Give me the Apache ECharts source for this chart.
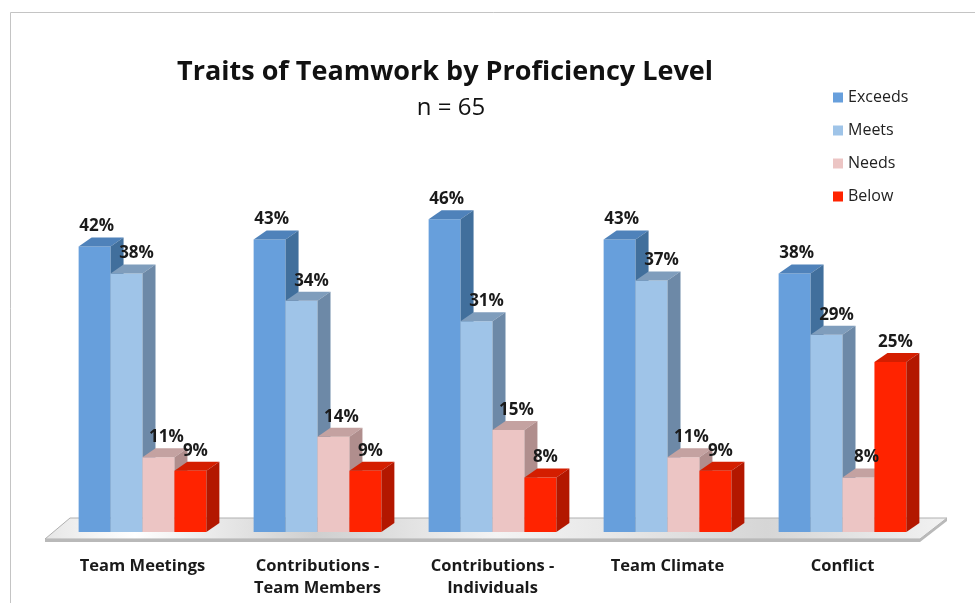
<!DOCTYPE html>
<html>
<head>
<meta charset="utf-8">
<script src="https://cdn.jsdelivr.net/npm/echarts@6/dist/echarts.min.js"></script>
<style>
  html, body { margin: 0; padding: 0; background: #fff; }
  #chart { width: 975px; height: 603px; }
</style>
</head>
<body>
<div id="chart"></div>
<script>
// categories and values (percent)
var categories = ['Team Meetings', 'Contributions -\nTeam Members', 'Contributions -\nIndividuals', 'Team Climate', 'Conflict']
var levels = ['Exceeds', 'Meets', 'Needs', 'Below']
var exceeds = [42, 43, 46, 43, 38]
var meets = [38, 34, 31, 37, 29]
var needs = [11, 14, 15, 11, 8]
var below = [9, 9, 8, 9, 25]

var seriesValues = [exceeds, meets, needs, below]
// front, top, side colours
var faceColors = [
  ['#679fdc', '#4f82ba', '#416f9c'],
  ['#9fc4e8', '#7f9dbc', '#6d89a7'],
  ['#ecc5c4', '#c4a2a1', '#b08e8d'],
  ['#ff2300', '#d41e00', '#b31700']
]
// label nudges to the right, like the original
var labelShift = [2, 10, 8, 5]

var DX = 13
var DY = 9
var FONT = '"Open Sans", sans-serif'

var chart = echarts.init(document.getElementById('chart'))

function barRenderer (sIdx) {
  return function (params, api) {
    var ci = api.value(0)
    var v = api.value(1)
    var top = api.coord([ci, v])
    var base = api.coord([ci, 0])
    var band = api.size([1, 0])[0]
    var barW = band * 0.73 / 4
    var x0 = top[0] - 2 * barW + sIdx * barW
    var ty = top[1]
    var by = base[1]
    var c = faceColors[sIdx]
    return {
      type: 'group',
      children: [
        {
          type: 'rect',
          shape: { x: x0, y: ty, width: barW, height: by - ty },
          style: { fill: c[0] }
        },
        {
          type: 'polygon',
          shape: { points: [[x0, ty], [x0 + DX, ty - DY], [x0 + barW + DX, ty - DY], [x0 + barW, ty]] },
          style: { fill: c[1] }
        },
        {
          type: 'polygon',
          shape: { points: [[x0 + barW, ty], [x0 + barW + DX, ty - DY], [x0 + barW + DX, by - DY], [x0 + barW, by]] },
          style: { fill: c[2] }
        },
        {
          type: 'text',
          z2: 10,
          style: {
            x: x0 + barW / 2 + labelShift[sIdx],
            y: ty - 20,
            text: v + '%',
            align: 'center',
            verticalAlign: 'middle',
            fontFamily: FONT,
            fontWeight: 'bold',
            fontSize: 17,
            fill: '#1a1a1a'
          }
        }
      ]
    }
  }
}

// floor slab under the bars, built from the grid rect
function floorRenderer (params, api) {
  var cs = params.coordSys
  var base = api.coord([0, 0])[1]
  var fy = base + 7
  var byk = base - 14
  var lx = cs.x - 10
  var rx = cs.x + cs.width - 10
  return {
    type: 'group',
    children: [
      {
        type: 'polygon',
        shape: { points: [[lx, fy], [rx, fy], [rx + 27, byk], [lx + 25, byk]] },
        style: {
          fill: new echarts.graphic.LinearGradient(0, 0, 1, 0, [
            { offset: 0, color: '#e6e6e6' },
            { offset: 0.1, color: '#ffffff' },
            { offset: 0.3, color: '#cfcfcf' },
            { offset: 0.5, color: '#f4f4f4' },
            { offset: 0.8, color: '#d6d6d6' },
            { offset: 1, color: '#f2f2f2' }
          ]),
          stroke: '#b0b0b0',
          lineWidth: 1
        }
      },
      {
        type: 'polygon',
        shape: { points: [[lx, fy], [rx, fy], [rx + 27, byk], [rx + 27, byk + 3], [rx, fy + 3], [lx, fy + 3]] },
        style: { fill: '#b9b9b9' }
      }
    ]
  }
}

var series = [{
  type: 'custom',
  name: 'floor',
  renderItem: floorRenderer,
  data: [[0, 0]],
  silent: true,
  z: 1
}]
levels.forEach(function (name, i) {
  series.push({
    type: 'custom',
    name: name,
    renderItem: barRenderer(i),
    itemStyle: { color: faceColors[i][0] },
    encode: { x: 0, y: 1 },
    data: seriesValues[i].map(function (v, k) { return [k, v] }),
    z: 2
  })
})

var option = {
  animation: false,
  backgroundColor: '#fff',
  graphic: [{
    type: 'rect',
    left: 8,
    top: 10,
    shape: { width: 1200, height: 800 },
    style: { fill: 'none', stroke: '#c4c4c4', lineWidth: 1 },
    silent: true
  }],
  title: [{
    text: 'Traits of Teamwork by Proficiency Level',
    left: 440,
    top: 54,
    textAlign: 'center',
    textStyle: { fontFamily: FONT, fontWeight: 'bold', fontSize: 27, color: '#111' }
  }, {
    text: 'n = 65',
    left: 446,
    top: 91,
    textAlign: 'center',
    textStyle: { fontFamily: FONT, fontWeight: 'normal', fontSize: 24, color: '#111' }
  }],
  legend: {
    orient: 'vertical',
    left: 828,
    top: 82,
    itemGap: 12,
    itemWidth: 10,
    itemHeight: 10,
    icon: 'rect',
    data: levels,
    textStyle: { fontFamily: FONT, fontSize: 16, color: '#222', lineHeight: 21 }
  },
  grid: {
    left: 55,
    right: 45,
    top: 192,
    bottom: 71
  },
  xAxis: {
    type: 'category',
    data: categories,
    axisLine: { show: false },
    axisTick: { show: false },
    axisLabel: {
      margin: 23,
      interval: 0,
      fontFamily: FONT,
      fontWeight: 'bold',
      fontSize: 16.5,
      lineHeight: 22,
      color: '#1a1a1a'
    }
  },
  yAxis: {
    type: 'value',
    min: 0,
    max: 50,
    show: false,
    splitLine: { show: false }
  },
  series: series
}

chart.setOption(option)
</script>
</body>
</html>
